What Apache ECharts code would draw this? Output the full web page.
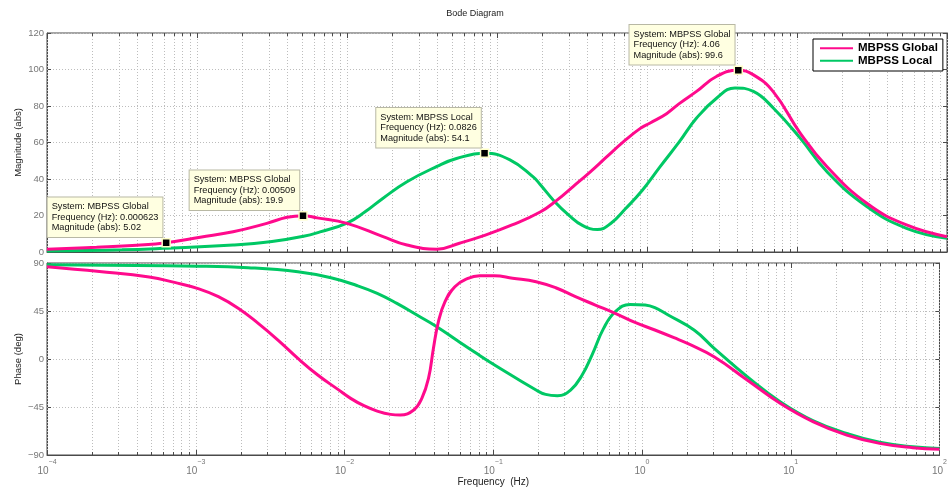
<!DOCTYPE html>
<html>
<head>
<meta charset="utf-8">
<script src="https://cdn.jsdelivr.net/npm/echarts@6/dist/echarts.min.js"></script>
<style>
  html, body { margin: 0; padding: 0; background: #fff; }
  #chart { width: 950px; height: 491px; }
</style>
</head>
<body>
<div id="chart"></div>
<script>
// magnitude, MBPSS Global
const globalMagFreq = [1e-4, 2.14e-4, 3.98e-4, 6.23e-4, 1.05e-3, 1.74e-3, 2.92e-3, 3.98e-3, 5.09e-3, 6.31e-3,
  0.01, 0.0174, 0.0251, 0.0398, 0.0562, 0.0807, 0.126, 0.194, 0.25, 0.323, 0.417, 0.538, 0.695, 0.897,
  1.05, 1.35, 1.64, 2.14, 2.92, 4.06, 5.09, 6.92, 10.5, 15.8, 29.2, 53.7, 100]
const globalMag = [1.5, 2.6, 3.7, 5.02, 8.1, 11.1, 15.7, 19.0, 19.9, 18.7,
  15.7, 8.4, 3.8, 1.5, 4.8, 8.8, 14.8, 21.9, 28.3, 36, 43.8, 52.1, 60.3, 67.6,
  70.7, 75.8, 81.3, 88, 96.3, 99.6, 97.2, 88, 65.2, 46.9, 26.7, 14.8, 8.4]

// magnitude, MBPSS Local
const localMagFreq = [1e-4, 3.16e-4, 5.93e-4, 1.74e-3, 3.16e-3, 5.13e-3, 6.61e-3, 0.01, 0.0132, 0.0174,
  0.0251, 0.0398, 0.0537, 0.0826, 0.122, 0.175, 0.194, 0.24, 0.302, 0.371, 0.467, 0.573, 0.721, 0.931,
  1.22, 1.64, 2.14, 2.92, 3.86, 5.12, 6.95, 10.5, 15.8, 29.2, 53.7, 100]
const localMag = [0.5, 1.2, 2.0, 3.8, 5.7, 8.6, 11.0, 15.8, 22.0, 29.5,
  38.5, 46.9, 51.2, 54.1, 50.5, 41, 37, 28, 20.1, 14.6, 12.3, 15.6, 23.8, 33.8,
  46.6, 60.3, 73.4, 84.4, 89.9, 88, 78.9, 62.4, 44.1, 24.9, 13, 7.5]

// phase, MBPSS Global
const globalPhaseFreq = [1e-4, 2.25e-4, 4.86e-4, 7.2e-4, 1.05e-3, 1.42e-3, 1.94e-3, 2.63e-3, 3.57e-3, 4.86e-3, 6.61e-3,
  9.03e-3, 0.011, 0.0135, 0.0166, 0.0204, 0.0237, 0.0292, 0.0331, 0.0367, 0.0396, 0.0428, 0.0474, 0.0552,
  0.0661, 0.0811, 0.102, 0.135, 0.194, 0.263, 0.357, 0.486, 0.661, 0.897, 1.22, 1.64, 2.04, 3.07, 5.12,
  8.53, 14.2, 23.8, 39.6, 66.1, 100]
const globalPhase = [86.5, 82, 76.9, 71.8, 65.8, 58.4, 47.4, 33.4, 17.8, 0.6, -15,
  -28.5, -36.9, -43.8, -48.8, -51.9, -52.5, -47.8, -36.9, -18.2, 9.9, 35, 53.7, 67.8,
  75, 78.1, 78.1, 75.8, 72.5, 66.8, 58.4, 50.6, 42.8, 34.3, 27.2, 20, 14.4, 1.9, -19.9,
  -41.7, -58.9, -71.3, -79.1, -83.2, -84.7]

// phase, MBPSS Local
const localPhaseFreq = [1e-4, 1.05e-3, 2.25e-3, 4.86e-3, 8.11e-3, 0.0122, 0.0166, 0.0225, 0.0307, 0.0417,
  0.0566, 0.0771, 0.104, 0.194, 0.225, 0.27, 0.331, 0.396, 0.461, 0.552, 0.661, 0.832, 1.05, 1.22, 1.5,
  2.25, 3.07, 5.12, 8.53, 14.2, 23.8, 39.6, 66.1, 100]
const localPhase = [88.3, 87, 85.6, 81.8, 76.2, 68.7, 61.5, 52.1, 41.2, 30.3,
  17.8, 5.3, -6.3, -29.1, -33.2, -34.4, -29.1, -15, 3.7, 28.7, 44.3, 51.2, 50.6, 48.1, 41.2,
  26.9, 9.7, -16.8, -40.2, -57.9, -69.7, -78.1, -82.2, -83.8]

// data tips
const tipSystem = ['MBPSS Global', 'MBPSS Global', 'MBPSS Local', 'MBPSS Global']
const tipFreq = [0.000623, 0.00509, 0.0826, 4.06]
const tipMag = [5.02, 19.9, 54.1, 99.6]

const magTicks = [0, 20, 40, 60, 80, 100, 120]
const phaseTicks = [-90, -45, 0, 45, 90]

const FONT = '"Liberation Sans", Arial, sans-serif'
const GLOBAL_COLOR = '#ff0a8c'
const LOCAL_COLOR = '#00c864'
const GRID_COLOR = '#bdbdbd'
const FRAME_COLOR = '#4a4a4a'

// vertical grid positions: every 1..9 x 10^n
const gridFreq = []
for (let e = -4; e <= 1; e++) {
  for (let k = 1; k <= 9; k++) gridFreq.push([k * Math.pow(10, e), 0, k === 1 ? 1 : 0])
}
gridFreq.push([100, 0, 1])

function pairs(xs, ys) {
  return xs.map((x, i) => [x, ys[i]])
}

function renderGrid(params, api) {
  const cs = params.coordSys
  const x = Math.round(api.coord([api.value(0), api.value(1)])[0]) + 0.5
  const len = api.value(2) === 1 ? 5 : 3
  const top = cs.y
  const bot = cs.y + cs.height
  return {
    type: 'group',
    children: [
      { type: 'line', shape: { x1: x, y1: top, x2: x, y2: bot }, style: { stroke: GRID_COLOR, lineWidth: 1, lineDash: [1, 2] } },
      { type: 'line', shape: { x1: x, y1: top, x2: x, y2: top + len }, style: { stroke: FRAME_COLOR, lineWidth: 1 } },
      { type: 'line', shape: { x1: x, y1: bot, x2: x, y2: bot - len }, style: { stroke: FRAME_COLOR, lineWidth: 1 } }
    ]
  }
}

function tipData(system) {
  const out = []
  tipSystem.forEach((s, i) => {
    if (s !== system) return
    out.push({
      coord: [tipFreq[i], tipMag[i]],
      label: {
        formatter: '{t|System: ' + s + '}\n{t|Frequency (Hz): ' + tipFreq[i] + '}\n{t|Magnitude (abs): ' + tipMag[i] + '}'
      }
    })
  })
  return out
}

const tipMarker = system => ({
  symbol: 'rect',
  symbolSize: 8,
  silent: true,
  itemStyle: { color: '#000', borderColor: '#ffffc8', borderWidth: 1.5 },
  label: {
    show: true,
    position: [1, -1],
    align: 'right',
    verticalAlign: 'bottom',
    backgroundColor: '#ffffe1',
    borderColor: '#b8b8a4',
    borderWidth: 1,
    padding: [4, 4, 4, 4],
    rich: {
      t: { align: 'left', color: '#111', fontFamily: FONT, fontSize: 9.2, lineHeight: 10.5 }
    }
  },
  data: tipData(system)
})

const logLabel = {
  showMinLabel: true,
  showMaxLabel: true,
  margin: 4,
  formatter: v => {
    const e = Math.round(Math.log10(v))
    return '{b|10}{e|' + (e < 0 ? '\u2212' + (-e) : e) + '}'
  },
  rich: {
    b: { fontSize: 10, color: '#777', fontFamily: FONT, verticalAlign: 'bottom', lineHeight: 17 },
    e: { fontSize: 7, color: '#777', fontFamily: FONT, verticalAlign: 'top', lineHeight: 17 }
  }
}

const yLabel = {
  color: '#777',
  fontFamily: FONT,
  fontSize: 9.5,
  margin: 3
}

const frame = { show: true, onZero: false, lineStyle: { color: FRAME_COLOR, width: 1 } }
const split = { show: true, lineStyle: { color: GRID_COLOR, type: [1, 2], width: 1 } }
const inTick = { show: true, inside: true, length: 4, lineStyle: { color: FRAME_COLOR } }
const nameStyle = { fontSize: 9.5, color: '#222', fontFamily: FONT }

const chart = echarts.init(document.getElementById('chart'), null, { renderer: 'canvas' })

chart.setOption({
  animation: false,
  color: [GLOBAL_COLOR, LOCAL_COLOR],
  textStyle: { fontFamily: FONT },
  title: {
    text: 'Bode Diagram',
    left: 'center',
    top: 4,
    textStyle: { fontSize: 9, fontWeight: 'normal', color: '#222', fontFamily: FONT }
  },
  legend: {
    data: ['MBPSS Global', 'MBPSS Local'],
    orient: 'vertical',
    left: 813,
    top: 39,
    padding: [3, 5, 4, 7],
    itemGap: 0,
    itemWidth: 33,
    itemHeight: 2,
    itemTextGap: 5,
    icon: 'rect',
    backgroundColor: '#fff',
    borderColor: '#000',
    borderWidth: 1,
    borderRadius: 0,
    textStyle: { fontSize: 11.5, fontWeight: 'bold', color: '#000', fontFamily: FONT, lineHeight: 12.5 }
  },
  grid: [
    { left: 47, top: 33, right: 3, height: 219, show: true, borderColor: FRAME_COLOR, borderWidth: 1 },
    { left: 47, top: 263, right: 3, height: 192, show: true, borderColor: FRAME_COLOR, borderWidth: 1 }
  ],
  xAxis: [
    {
      type: 'log', logBase: 10, gridIndex: 0, min: 1e-4, max: 100,
      axisLine: frame, axisTick: { show: false }, axisLabel: { show: false }, splitLine: { show: false }
    },
    {
      type: 'log', logBase: 10, gridIndex: 1, min: 1e-4, max: 100,
      name: 'Frequency  (Hz)', nameLocation: 'middle', nameGap: 22, nameMoveOverlap: false,
      nameTextStyle: { fontSize: 10, color: '#222', fontFamily: FONT },
      axisLine: frame, axisTick: { show: false }, axisLabel: logLabel, splitLine: { show: false }
    }
  ],
  yAxis: [
    {
      type: 'value', gridIndex: 0, min: magTicks[0], max: magTicks[magTicks.length - 1], interval: 20,
      name: 'Magnitude (abs)', nameLocation: 'middle', nameGap: 24, nameMoveOverlap: false,
      nameTextStyle: nameStyle,
      axisLine: frame, axisTick: inTick, axisLabel: yLabel, splitLine: split
    },
    {
      type: 'value', gridIndex: 0, position: 'right', min: magTicks[0], max: magTicks[magTicks.length - 1], interval: 20,
      axisLine: frame, axisTick: inTick, axisLabel: { show: false }, splitLine: { show: false }
    },
    {
      type: 'value', gridIndex: 1, min: phaseTicks[0], max: phaseTicks[phaseTicks.length - 1], interval: 45,
      name: 'Phase (deg)', nameLocation: 'middle', nameGap: 24, nameMoveOverlap: false,
      nameTextStyle: nameStyle,
      axisLine: frame, axisTick: inTick,
      axisLabel: Object.assign({}, yLabel, { formatter: v => (v < 0 ? '\u2212' + (-v) : String(v)) }),
      splitLine: split
    },
    {
      type: 'value', gridIndex: 1, position: 'right', min: phaseTicks[0], max: phaseTicks[phaseTicks.length - 1], interval: 45,
      axisLine: frame, axisTick: inTick, axisLabel: { show: false }, splitLine: { show: false }
    }
  ],
  series: [
    {
      type: 'custom', xAxisIndex: 0, yAxisIndex: 0, silent: true, z: 1,
      renderItem: renderGrid, data: gridFreq
    },
    {
      type: 'custom', xAxisIndex: 1, yAxisIndex: 2, silent: true, z: 1,
      renderItem: renderGrid, data: gridFreq.map(d => [d[0], -90, d[2]])
    },
    {
      name: 'MBPSS Global', type: 'line', xAxisIndex: 0, yAxisIndex: 0, z: 3,
      data: pairs(globalMagFreq, globalMag), showSymbol: false, smooth: 0.45,
      lineStyle: { width: 3, color: GLOBAL_COLOR },
      markPoint: tipMarker('MBPSS Global')
    },
    {
      name: 'MBPSS Local', type: 'line', xAxisIndex: 0, yAxisIndex: 0, z: 2,
      data: pairs(localMagFreq, localMag), showSymbol: false, smooth: 0.45,
      lineStyle: { width: 3, color: LOCAL_COLOR },
      markPoint: tipMarker('MBPSS Local')
    },
    {
      name: 'MBPSS Global', type: 'line', xAxisIndex: 1, yAxisIndex: 2, z: 3,
      data: pairs(globalPhaseFreq, globalPhase), showSymbol: false, smooth: 0.45,
      lineStyle: { width: 3, color: GLOBAL_COLOR }
    },
    {
      name: 'MBPSS Local', type: 'line', xAxisIndex: 1, yAxisIndex: 2, z: 2,
      data: pairs(localPhaseFreq, localPhase), showSymbol: false, smooth: 0.45,
      lineStyle: { width: 3, color: LOCAL_COLOR }
    }
  ]
})
</script>
</body>
</html>
